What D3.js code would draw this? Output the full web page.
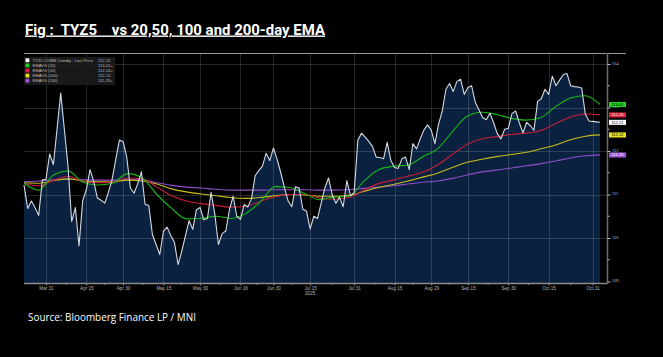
<!DOCTYPE html>
<html><head><meta charset="utf-8">
<script src="https://cdn.jsdelivr.net/npm/d3@7"></script>
<style>
html,body{margin:0;padding:0;background:#000;}
svg{display:block;}
</style></head><body>
<svg id="c" width="663" height="357"></svg>
<script>
// ---------------- DATA ----------------
const startDate = "2025-03-21";
const endDate = "2025-11-04";
const holidays = ["2025-04-18","2025-05-26","2025-06-19","2025-07-04","2025-09-01"];

// TYZ5 last price, one value per trading day
const price = [
 111.22,110.68,110.85,110.70,110.52,111.33,111.35,111.93,111.69,112.50,
 113.33,112.50,111.65,110.38,110.70,109.82,110.86,111.12,111.57,111.30,
 110.92,110.87,110.80,111.05,111.34,111.80,112.25,112.22,111.86,111.15,
 111.03,111.25,111.52,110.77,110.75,110.08,109.85,109.62,110.15,110.25,
 110.06,109.90,109.39,109.70,110.05,110.40,110.20,110.65,110.70,110.42,
 110.45,111.05,110.55,109.85,110.10,110.16,110.65,110.96,110.50,110.43,
 110.77,110.71,110.90,111.43,111.55,111.65,111.95,111.78,112.07,111.80,
 111.50,111.15,110.85,110.72,111.18,111.15,110.66,110.62,110.21,110.50,
 110.45,110.80,111.15,111.38,111.00,110.80,110.94,110.72,111.32,110.97,
 111.05,112.25,112.41,112.32,112.22,112.10,111.86,111.85,111.82,112.20,
 111.78,111.62,111.60,111.82,111.86,111.57,112.17,112.05,112.28,112.48,
 112.60,112.48,112.17,112.62,112.92,113.42,113.55,113.37,113.60,113.65,
 113.30,113.46,113.50,113.12,112.95,112.77,112.72,112.87,112.65,112.40,
 112.28,112.50,112.52,112.86,112.92,112.65,112.42,112.66,112.58,112.48,
 113.14,113.20,113.42,113.30,113.72,113.50,113.63,113.76,113.78,113.50,
 113.48,113.47,113.45,112.85,112.69,112.68,112.67,112.66
];

// EMAs, read at evenly spaced points from first to last trading day
const ema20 = [111.26,111.10,111.45,111.54,111.28,111.22,111.26,111.48,111.38,111.00,
 110.68,110.44,110.45,110.50,110.45,110.56,110.83,111.18,111.16,111.02,
 110.88,110.94,110.96,111.30,111.57,111.65,111.68,111.87,112.05,112.44,
 112.80,112.89,112.84,112.75,112.71,112.77,113.02,113.22,113.27,113.07];
const ema50 = [111.26,111.20,111.33,111.42,111.30,111.27,111.29,111.38,111.36,111.17,
 110.97,110.85,110.79,110.75,110.71,110.73,110.84,110.95,111.00,111.00,
 110.92,110.89,110.93,111.10,111.25,111.33,111.42,111.51,111.68,111.92,
 112.15,112.28,112.33,112.38,112.41,112.47,112.63,112.78,112.85,112.83];
const ema100 = [111.27,111.26,111.32,111.36,111.31,111.29,111.29,111.33,111.31,111.24,
 111.13,111.06,111.01,110.97,110.93,110.91,110.93,110.97,111.00,110.99,
 110.96,110.96,110.98,111.07,111.16,111.23,111.31,111.40,111.49,111.62,
 111.74,111.81,111.87,111.92,111.97,112.05,112.14,112.26,112.34,112.37];
const ema200 = [111.29,111.31,111.34,111.35,111.34,111.33,111.33,111.34,111.34,111.27,
 111.21,111.17,111.15,111.12,111.10,111.10,111.10,111.11,111.11,111.11,
 111.10,111.10,111.11,111.14,111.17,111.20,111.24,111.28,111.31,111.37,
 111.45,111.52,111.56,111.61,111.66,111.71,111.77,111.84,111.89,111.91];

const tickDates = ["2025-03-31","2025-04-15","2025-04-30","2025-05-15","2025-05-30","2025-06-16",
 "2025-06-30","2025-07-15","2025-07-31","2025-08-15","2025-08-29","2025-09-15","2025-09-30",
 "2025-10-15","2025-10-31"];
const yearLabel = {date:"2025-07-15", text:"2025"};
const yTicks = [109,110,111,112,113,114];
const yMinorTicks = [109.5,110.5,111.5,112.5,113.5];

const seriesNames = ["TYZ5 COMB Comdty - Last Price","EMAVG (20)","EMAVG (50)","EMAVG (100)","EMAVG (200)"];
const legendValues = ["112-21","113-01+","112-26+","112-12","111-29+"];
const endLabels = ["112-21","113-01","112-26","112-12","111-29"];
const seriesColors = ["#ffffff","#1ed41e","#e0203c","#e8e020","#a455e0"];
const lineColors = ["#d3dae3","#16b816","#c81e3a","#c6bc1c","#8f4cc8"];
const labelText = ["#000","#000","#fff","#000","#fff"];

// ---------------- CHART ----------------
const svg = d3.select("#c");
const W = 663, H = 357;
const L = 24, R = 600, T = 53, B = 283.5, AX = 607.5;

svg.append("rect").attr("width",W).attr("height",H).attr("fill","#000");

const parse = d3.timeParse("%Y-%m-%d"), fmtKey = d3.timeFormat("%Y-%m-%d"), fmtLab = d3.timeFormat("%b %d");
const hol = new Set(holidays);
const days = d3.timeDay.range(parse(startDate), d3.timeDay.offset(parse(endDate),1))
  .filter(d => d.getDay()%6 !== 0 && !hol.has(fmtKey(d)));
const idxOf = s => days.findIndex(d => fmtKey(d) === s);

const n = price.length;
const x = d3.scaleLinear().domain([0, n-1]).range([L, R]);
const y = d3.scaleLinear().domain([109, 114]).range([281.5, 64]);

// area
svg.append("path").datum(price)
  .attr("d", d3.area().x((d,i)=>x(i)).y0(B).y1(d=>y(d)))
  .attr("fill","#0a2240");

// grid
const tickIdx = tickDates.map(idxOf);
const grid = svg.append("g").attr("stroke","rgba(255,255,255,0.15)").attr("stroke-width",1);
grid.selectAll("line.h").data(yTicks.filter(v=>v>109)).join("line")
  .attr("x1",L).attr("x2",AX).attr("y1",d=>Math.round(y(d))+0.5).attr("y2",d=>Math.round(y(d))+0.5);
grid.selectAll("line.v").data(tickIdx).join("line")
  .attr("y1",T).attr("y2",B).attr("x1",d=>Math.round(x(d))+0.5).attr("x2",d=>Math.round(x(d))+0.5);

// EMA lines
const emas = [ema20, ema50, ema100, ema200];
emas.slice().reverse().forEach((arr, r) => {
  const k = 3 - r;
  const m = arr.length;
  svg.append("path").datum(arr)
    .attr("d", d3.line().x((d,j)=>x(j*(n-1)/(m-1))).y(d=>y(d)).curve(d3.curveMonotoneX))
    .attr("fill","none").attr("stroke",lineColors[k+1]).attr("stroke-width",1.1);
});

// price line
svg.append("path").datum(price)
  .attr("d", d3.line().x((d,i)=>x(i)).y(d=>y(d)))
  .attr("fill","none").attr("stroke",lineColors[0]).attr("stroke-width",1.1).attr("stroke-linejoin","round");

// top border
svg.append("line").attr("x1",L).attr("x2",626).attr("y1",T+0.5).attr("y2",T+0.5)
  .attr("stroke","#9a9a9a").attr("stroke-width",1);

// bottom axis
const xAxis = d3.axisBottom(x).tickValues(tickIdx).tickSize(2).tickPadding(1.5)
  .tickFormat(i => fmtLab(days[i]));
const gx = svg.append("g").attr("transform",`translate(0,${B})`).call(xAxis);
gx.select(".domain").attr("stroke","#8c8c8c").attr("stroke-width",1.5).attr("d",`M${L},0H${AX}`);
gx.selectAll(".tick line").attr("stroke","#8c8c8c");
gx.selectAll(".tick text").attr("fill","#b8b8b8").style("font","4.6px 'Liberation Sans', Arial, sans-serif");
const minorX = tickIdx.slice(0,-1).map((v,i)=>(v+tickIdx[i+1])/2);
gx.selectAll("line.minor").data(minorX).join("line")
  .attr("x1",d=>x(d)).attr("x2",d=>x(d)).attr("y1",0).attr("y2",1.5).attr("stroke","#8c8c8c");
svg.append("text").attr("x",x(idxOf(yearLabel.date))).attr("y",294.5).attr("text-anchor","middle")
  .attr("fill","#b8b8b8").style("font","4.6px 'Liberation Sans', Arial, sans-serif").text(yearLabel.text);

// right axis
const yAxis = d3.axisRight(y).tickValues(yTicks).tickSize(3).tickPadding(1.5).tickFormat(d3.format("d"));
const gy = svg.append("g").attr("transform",`translate(${AX},0)`).call(yAxis);
gy.select(".domain").attr("stroke","#6a6a6a").attr("stroke-width",1.5).attr("d",`M0,${T}V${B}`);
gy.selectAll(".tick line").attr("stroke","#bbb");
gy.selectAll(".tick text").attr("fill","#c8c8c8").attr("dy","0.05em").style("font","4.4px 'Liberation Serif', serif");
gy.selectAll("line.minor").data(yMinorTicks).join("line")
  .attr("x1",0).attr("x2",2).attr("y1",d=>y(d)).attr("y2",d=>y(d)).attr("stroke","#bbb");

// legend
const lg = svg.append("g");
lg.append("rect").attr("x",L).attr("y",57).attr("width",91).attr("height",28)
  .attr("fill","#1b1b1b").attr("opacity",0.92);
seriesNames.forEach((nm,i)=>{
  const cy = 60.3 + i*5.1;
  lg.append("rect").attr("x",25.5).attr("y",cy-1.9).attr("width",3.8).attr("height",3.8).attr("fill",seriesColors[i]);
  lg.append("text").attr("x",32.5).attr("y",cy+1.5).attr("fill","#bdbdbd")
    .style("font","4.1px 'Liberation Sans', Arial, sans-serif").text(nm);
  lg.append("text").attr("x",98).attr("y",cy+1.5).attr("fill","#bdbdbd")
    .style("font","4.1px 'Liberation Sans', Arial, sans-serif").text(legendValues[i]);
});

// end labels
const lastVals = [price[n-1], ema20[ema20.length-1], ema50[ema50.length-1], ema100[ema100.length-1], ema200[ema200.length-1]];
[1,2,0,3,4].forEach(i=>{
  const cy = y(lastVals[i]);
  svg.append("rect").attr("x",609).attr("y",cy-2.5).attr("width",17).attr("height",5.1).attr("fill",seriesColors[i]);
  svg.append("text").attr("x",617.5).attr("y",cy+1.5).attr("text-anchor","middle").attr("fill",labelText[i])
    .style("font","4.0px 'Liberation Sans', Arial, sans-serif").text(endLabels[i]);
});

// title & source
svg.append("text").attr("x",25).attr("y",34.5).attr("fill","#fff")
  .attr("textLength",300).attr("lengthAdjust","spacingAndGlyphs")
  .style("font","bold 14px Roboto, 'Open Sans', sans-serif").style("white-space","pre")
  .style("text-decoration","underline")
  .text("Fig :  TYZ5    vs 20,50, 100 and 200-day EMA");
svg.append("text").attr("x",28).attr("y",321).attr("fill","#fff")
  .attr("textLength",168).attr("lengthAdjust","spacingAndGlyphs")
  .style("font","10px 'Open Sans', sans-serif")
  .text("Source: Bloomberg Finance LP / MNI");
</script>
</body></html>
